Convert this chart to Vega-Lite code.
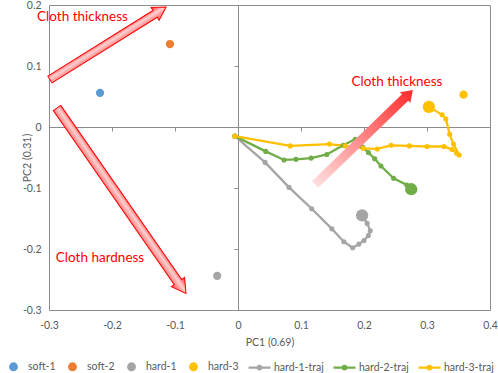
{
  "$schema": "https://vega.github.io/schema/vega-lite/v6.json",
  "width": 441,
  "height": 305,
  "autosize": {"type": "none"},
  "padding": {"left": 49, "top": 5, "right": 8, "bottom": 63},
  "background": "white",
  "config": {
    "font": "Lato",
    "view": {"stroke": "#8c8c8c", "strokeWidth": 1},
    "axis": {"grid": false}
  },
  "datasets": {
    "scatter": [
      {"series": "soft-1", "x": -0.219, "y": 0.056},
      {"series": "soft-2", "x": -0.108, "y": 0.136},
      {"series": "hard-1", "x": -0.033, "y": -0.244},
      {"series": "hard-3", "x": 0.358, "y": 0.053}
    ],
    "traj": [
      {"series": "hard-1-traj", "step": 1, "x": -0.005, "y": -0.015, "final": 0},
      {"series": "hard-1-traj", "step": 2, "x": 0.043, "y": -0.058, "final": 0},
      {"series": "hard-1-traj", "step": 3, "x": 0.081, "y": -0.099, "final": 0},
      {"series": "hard-1-traj", "step": 4, "x": 0.117, "y": -0.134, "final": 0},
      {"series": "hard-1-traj", "step": 5, "x": 0.149, "y": -0.167, "final": 0},
      {"series": "hard-1-traj", "step": 6, "x": 0.168, "y": -0.188, "final": 0},
      {"series": "hard-1-traj", "step": 7, "x": 0.182, "y": -0.198, "final": 0},
      {"series": "hard-1-traj", "step": 8, "x": 0.192, "y": -0.192, "final": 0},
      {"series": "hard-1-traj", "step": 9, "x": 0.2, "y": -0.186, "final": 0},
      {"series": "hard-1-traj", "step": 10, "x": 0.207, "y": -0.178, "final": 0},
      {"series": "hard-1-traj", "step": 11, "x": 0.21, "y": -0.17, "final": 0},
      {"series": "hard-1-traj", "step": 12, "x": 0.205, "y": -0.158, "final": 0},
      {"series": "hard-1-traj", "step": 13, "x": 0.197, "y": -0.145, "final": 1},
      {"series": "hard-2-traj", "step": 1, "x": -0.005, "y": -0.015, "final": 0},
      {"series": "hard-2-traj", "step": 2, "x": 0.044, "y": -0.04, "final": 0},
      {"series": "hard-2-traj", "step": 3, "x": 0.073, "y": -0.054, "final": 0},
      {"series": "hard-2-traj", "step": 4, "x": 0.092, "y": -0.053, "final": 0},
      {"series": "hard-2-traj", "step": 5, "x": 0.116, "y": -0.051, "final": 0},
      {"series": "hard-2-traj", "step": 6, "x": 0.141, "y": -0.045, "final": 0},
      {"series": "hard-2-traj", "step": 7, "x": 0.167, "y": -0.03, "final": 0},
      {"series": "hard-2-traj", "step": 8, "x": 0.186, "y": -0.02, "final": 0},
      {"series": "hard-2-traj", "step": 9, "x": 0.198, "y": -0.033, "final": 0},
      {"series": "hard-2-traj", "step": 10, "x": 0.207, "y": -0.042, "final": 0},
      {"series": "hard-2-traj", "step": 11, "x": 0.217, "y": -0.052, "final": 0},
      {"series": "hard-2-traj", "step": 12, "x": 0.227, "y": -0.064, "final": 0},
      {"series": "hard-2-traj", "step": 13, "x": 0.247, "y": -0.084, "final": 0},
      {"series": "hard-2-traj", "step": 14, "x": 0.268, "y": -0.095, "final": 0},
      {"series": "hard-2-traj", "step": 15, "x": 0.275, "y": -0.102, "final": 1},
      {"series": "hard-3-traj", "step": 1, "x": -0.005, "y": -0.015, "final": 0},
      {"series": "hard-3-traj", "step": 2, "x": 0.083, "y": -0.031, "final": 0},
      {"series": "hard-3-traj", "step": 3, "x": 0.145, "y": -0.028, "final": 0},
      {"series": "hard-3-traj", "step": 4, "x": 0.17, "y": -0.031, "final": 0},
      {"series": "hard-3-traj", "step": 5, "x": 0.199, "y": -0.035, "final": 0},
      {"series": "hard-3-traj", "step": 6, "x": 0.221, "y": -0.036, "final": 0},
      {"series": "hard-3-traj", "step": 7, "x": 0.243, "y": -0.03, "final": 0},
      {"series": "hard-3-traj", "step": 8, "x": 0.272, "y": -0.031, "final": 0},
      {"series": "hard-3-traj", "step": 9, "x": 0.3, "y": -0.032, "final": 0},
      {"series": "hard-3-traj", "step": 10, "x": 0.327, "y": -0.032, "final": 0},
      {"series": "hard-3-traj", "step": 11, "x": 0.34, "y": -0.037, "final": 0},
      {"series": "hard-3-traj", "step": 12, "x": 0.347, "y": -0.043, "final": 0},
      {"series": "hard-3-traj", "step": 13, "x": 0.351, "y": -0.046, "final": 0},
      {"series": "hard-3-traj", "step": 14, "x": 0.342, "y": -0.028, "final": 0},
      {"series": "hard-3-traj", "step": 15, "x": 0.336, "y": -0.012, "final": 0},
      {"series": "hard-3-traj", "step": 16, "x": 0.33, "y": 0.013, "final": 0},
      {"series": "hard-3-traj", "step": 17, "x": 0.324, "y": 0.02, "final": 0},
      {"series": "hard-3-traj", "step": 18, "x": 0.303, "y": 0.033, "final": 1}
    ],
    "notes": [
      {"label": "Cloth thickness", "x": -0.2468, "y": 0.1803},
      {"label": "Cloth hardness", "x": -0.219, "y": -0.2153},
      {"label": "Cloth thickness", "x": 0.2524, "y": 0.0738}
    ],
    "arrow1": [{"x": -0.2063, "y": 0.1373}],
    "arrow2": [{"x": -0.1849, "y": -0.1209}],
    "arrow3": [{"x": 0.2, "y": -0.0168}]
  },
  "encoding": {
    "x": {
      "field": "x",
      "type": "quantitative",
      "scale": {"domain": [-0.3, 0.4], "nice": false, "zero": false},
      "axis": {
        "orient": "bottom",
        "offset": -183,
        "values": [-0.3, -0.2, -0.1, 0, 0.1, 0.2, 0.3, 0.4],
        "labelExpr": "'' + round(datum.value*10)/10",
        "domainColor": "#8c8c8c",
        "tickColor": "#8c8c8c",
        "tickSize": 4,
        "labelPadding": 189,
        "labelFlush": false,
        "labelFontSize": 10.5,
        "labelColor": "#595959",
        "title": "PC1 (0.69)",
        "titleFontSize": 10.5,
        "titleFontWeight": "normal",
        "titleColor": "#595959",
        "titlePadding": 10,
        "grid": false
      }
    },
    "y": {
      "field": "y",
      "type": "quantitative",
      "scale": {"domain": [-0.3, 0.2], "nice": false, "zero": false},
      "axis": {
        "orient": "left",
        "offset": -189,
        "values": [-0.3, -0.2, -0.1, 0, 0.1, 0.2],
        "labelExpr": "'' + round(datum.value*10)/10",
        "domainColor": "#8c8c8c",
        "tickColor": "#8c8c8c",
        "tickSize": 4,
        "labelPadding": 193,
        "labelFlush": false,
        "labelFontSize": 10.5,
        "labelColor": "#595959",
        "title": "PC2 (0.31)",
        "titleFontSize": 10.5,
        "titleFontWeight": "normal",
        "titleColor": "#595959",
        "titlePadding": 6,
        "grid": false
      }
    }
  },
  "layer": [
    {
      "data": {"name": "traj"},
      "mark": {"type": "line", "strokeWidth": 2.3},
      "encoding": {
        "color": {"field": "series", "type": "nominal"},
        "order": {"field": "step", "type": "quantitative"}
      }
    },
    {
      "data": {"name": "traj"},
      "mark": {"type": "circle", "opacity": 1},
      "encoding": {
        "color": {"field": "series", "type": "nominal"},
        "size": {"condition": {"test": "datum.final == 1", "value": 150}, "value": 26}
      }
    },
    {
      "data": {"name": "scatter"},
      "mark": {"type": "circle", "opacity": 1, "size": 68},
      "encoding": {
        "color": {
          "field": "series",
          "type": "nominal",
          "scale": {
            "domain": ["soft-1", "soft-2", "hard-1", "hard-3", "hard-1-traj", "hard-2-traj", "hard-3-traj"],
            "range": ["#5b9bd5", "#ed7d31", "#a5a5a5", "#ffc000", "#a5a5a5", "#70ad47", "#ffc000"]
          },
          "legend": {
            "orient": "none",
            "legendX": -48,
            "legendY": 349,
            "direction": "horizontal",
            "title": null,
            "symbolSize": 484,
            "symbolStrokeWidth": 0,
            "symbolOpacity": 1,
            "labelFontSize": 10.5,
            "labelColor": "#595959",
            "labelOffset": 2,
            "columnPadding": 4,
            "encode": {
              "symbols": {
                "update": {
                  "shape": {"signal": "indexof(datum.value, 'traj') >= 0 ? 'M-1,0L1,0M-0.15,0A0.15,0.15 0 1,0 0.15,0A0.15,0.15 0 1,0 -0.15,0Z' : 'M-0.3,0A0.3,0.3 0 1,0 0.3,0A0.3,0.3 0 1,0 -0.3,0Z'"},
                  "fill": {"signal": "scale('color', datum.value)"},
                  "stroke": {"signal": "scale('color', datum.value)"},
                  "strokeWidth": {"value": 2.3},
                  "opacity": {"value": 1}
                }
              }
            }
          }
        }
      }
    },
    {
      "data": {"name": "notes"},
      "mark": {"type": "text", "fontSize": 13.5, "color": "#ff0000", "align": "center", "baseline": "middle"},
      "encoding": {"text": {"field": "label", "type": "nominal"}}
    },
    {
      "data": {"name": "arrow1"},
      "mark": {
        "type": "point",
        "filled": true,
        "shape": "M-1,-0.058L0.81,-0.058L0.81,-0.11L1,0L0.81,0.11L0.81,0.058L-1,0.058Z",
        "size": 18769,
        "angle": -32,
        "opacity": 1,
        "fill": {"gradient": "linear", "x1": 0, "y1": 0, "x2": 0, "y2": 1, "stops": [{"offset": 0, "color": "#ff2a2a"}, {"offset": 0.45, "color": "#ffd0d0"}, {"offset": 1, "color": "#ff5050"}]},
        "stroke": "#ff0000",
        "strokeWidth": 1
      }
    },
    {
      "data": {"name": "arrow2"},
      "mark": {
        "type": "point",
        "filled": true,
        "shape": "M-1,-0.04L0.876,-0.04L0.876,-0.071L1,0L0.876,0.071L0.876,0.04L-1,0.04Z",
        "size": 51076,
        "angle": 55.2,
        "opacity": 1,
        "fill": {"gradient": "linear", "x1": 0, "y1": 0, "x2": 0, "y2": 1, "stops": [{"offset": 0, "color": "#ff2a2a"}, {"offset": 0.45, "color": "#ffd0d0"}, {"offset": 1, "color": "#ff5050"}]},
        "stroke": "#ff0000",
        "strokeWidth": 1
      }
    },
    {
      "data": {"name": "arrow3"},
      "mark": {
        "type": "point",
        "filled": true,
        "shape": "M-1,-0.066L0.84,-0.066L0.84,-0.11L1,0L0.84,0.11L0.84,0.066L-1,0.066Z",
        "size": 18496,
        "angle": -44,
        "opacity": 1,
        "fill": {"gradient": "linear", "x1": 0, "y1": 0, "x2": 1, "y2": 0, "stops": [{"offset": 0, "color": "#ffdede"}, {"offset": 1, "color": "#ff2b2b"}]},
        "strokeWidth": 0
      }
    }
  ]
}
